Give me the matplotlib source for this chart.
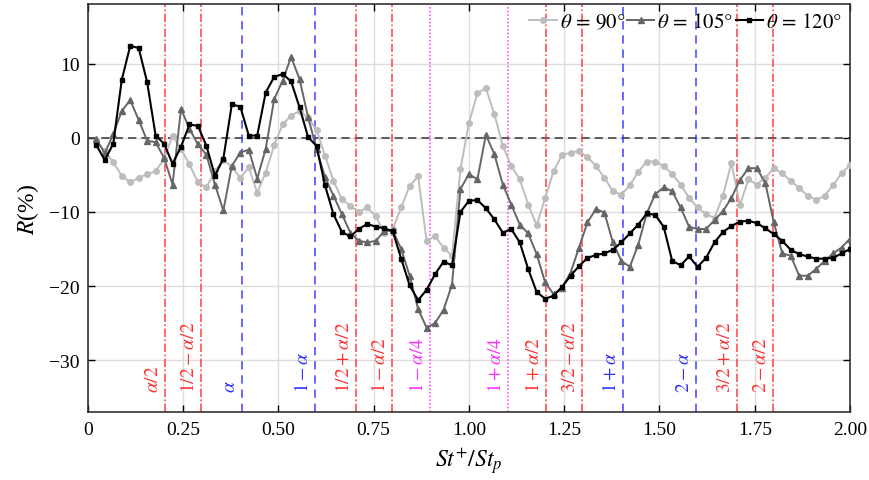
import matplotlib
matplotlib.use('Agg')
import matplotlib.pyplot as plt
import numpy as np

plt.rcParams['font.family'] = ['Liberation Serif', 'DejaVu Serif']
plt.rcParams['mathtext.fontset'] = 'stix'

# frequency bins St+/St_p (uniform resolution 1/45)
st_ratio = np.arange(1, 91) / 45

r_90 = [-0.4, -1.8, -3.3, -5.1, -6.0, -5.4, -4.9, -4.5, -2.9, 0.3, -1.5, -3.6, -6.0, -6.7, -4.5,
        -3.0, -3.9, -5.4, -4.0, -7.4, -4.7, -1.0,
        1.8, 3.0, 3.6, 2.7, 1.1, -2.4, -5.8, -8.3, -9.2, -10.0, -9.4, -10.6, -12.8, -12.3, -9.4,
        -6.5, -5.2, -13.9, -13.3, -14.8, -15.9, -4.2, 2.0,
        6.0, 6.7, 3.2, -1.1, -3.8, -5.6, -9.0, -11.8, -8.1, -4.5, -2.3, -2.0, -1.8, -2.6, -3.8,
        -5.4, -7.2, -7.7, -6.4, -4.6, -3.2, -3.2,
        -3.8, -4.9, -6.3, -8.1, -9.4, -10.3, -10.8, -7.8, -3.4, -9.1, -5.6, -6.3, -5.4, -4.1,
        -4.8, -5.8, -6.8, -7.8, -8.4, -7.8, -6.4, -4.8, -3.7]

r_105 = [-0.2, -2.1, 0.5, 3.6, 5.1, 2.4, -0.4, -0.6, -2.7, -6.3, 3.9, 1.2, -0.9, -2.3, -6.3,
         -9.8, -3.8, -2.0, -1.6, -5.5, -1.5, 5.2,
         7.7, 10.9, 7.9, 2.8, -1.5, -5.3, -7.8, -10.3, -12.8, -13.9, -14.1, -13.9, -12.6, -12.5,
         -15.0, -18.6, -23.1, -25.6, -25.0, -23.2, -19.8, -6.9, -4.9,
         -5.6, 0.4, -2.2, -6.3, -9.0, -11.7, -12.9, -15.7, -19.5, -21.1, -20.2, -18.2, -14.8,
         -11.4, -9.6, -10.1, -14.1, -16.6, -17.4, -14.4, -10.2, -7.6,
         -6.7, -7.2, -9.4, -12.0, -12.3, -12.3, -11.1, -9.9, -8.1, -5.7, -4.1, -4.1, -6.1, -11.4,
         -15.6, -15.9, -18.6, -18.6, -17.7, -16.6, -15.6, -14.8, -13.6]

r_120 = [-1.0, -3.0, -0.8, 7.8, 12.4, 12.1, 7.5, 0.3, -0.8, -3.5, -1.2, 1.8, 1.6, -1.1, -5.1,
         -2.8, 4.5, 4.2, 0.3, 0.3, 6.1, 8.2,
         8.6, 7.6, 4.1, 0.1, -1.1, -6.4, -10.3, -12.7, -13.3, -12.3, -11.6, -12.0, -12.2, -12.6,
         -16.3, -19.9, -21.9, -20.5, -18.4, -16.7, -17.2, -10.0, -8.5,
         -8.4, -9.5, -11.0, -12.8, -12.3, -14.1, -17.7, -20.8, -21.7, -21.3, -20.1, -18.6, -17.3,
         -16.2, -15.8, -15.6, -15.1, -14.1, -12.9, -11.7, -10.2, -10.4,
         -12.0, -16.6, -17.2, -16.0, -17.4, -16.2, -14.1, -12.7, -11.9, -11.3, -11.2, -11.5,
         -12.2, -13.0, -13.9, -15.1, -15.7, -16.0, -16.3, -16.3, -16.2, -15.6, -15.0]

alpha = 0.405
red, blue, magenta = '#ff3030', '#3030ff', '#ff30ff'
ref_lines = [
    (alpha / 2, r'$\alpha/2$', red),
    (0.5 - alpha / 2, r'$1/2-\alpha/2$', red),
    (alpha, r'$\alpha$', blue),
    (1 - alpha, r'$1-\alpha$', blue),
    (0.5 + alpha / 2, r'$1/2+\alpha/2$', red),
    (1 - alpha / 2, r'$1-\alpha/2$', red),
    (1 - alpha / 4, r'$1-\alpha/4$', magenta),
    (1 + alpha / 4, r'$1+\alpha/4$', magenta),
    (1 + alpha / 2, r'$1+\alpha/2$', red),
    (1.5 - alpha / 2, r'$3/2-\alpha/2$', red),
    (1 + alpha, r'$1+\alpha$', blue),
    (2 - alpha, r'$2-\alpha$', blue),
    (1.5 + alpha / 2, r'$3/2+\alpha/2$', red),
    (2 - alpha / 2, r'$2-\alpha/2$', red),
]
line_styles = {red: (0, (5, 1.5, 1, 1.5)), blue: (0, (5, 3.5)), magenta: (0, (1, 1.2))}

fig = plt.figure(figsize=(8.7, 4.81), dpi=100)
ax = fig.add_axes([0.101, 0.141, 0.876, 0.848])

ax.grid(True, color='#dddddd', linewidth=1.0)
ax.set_axisbelow(True)
ax.axhline(0, color='#444444', linestyle=(0, (5, 3)), linewidth=1.2, zorder=1)

for xv, label, col in ref_lines:
    ax.axvline(xv, color=col, linestyle=line_styles[col], linewidth=1.2, alpha=0.85, zorder=1)
    ax.text(xv - 0.008, -34.3, label, color=col, rotation=90, fontsize=14,
            ha='right', va='bottom')

ax.plot(st_ratio, r_90, color='#bdbdbd', marker='o', markersize=4, linewidth=1.4,
        label=r'$\theta\,=\,90°$', zorder=3)
ax.plot(st_ratio, r_105, color='#666666', marker='^', markersize=5, linewidth=1.4,
        label=r'$\theta\,=\,105°$', zorder=4)
ax.plot(st_ratio, r_120, color='black', marker='s', markersize=3.5, linewidth=1.5,
        label=r'$\theta\,=\,120°$', zorder=5)

ax.set_xlim(0, 2)
ax.set_ylim(-37, 18)
ax.set_xticks([0, 0.25, 0.5, 0.75, 1.0, 1.25, 1.5, 1.75, 2.0])
ax.set_xticklabels(['0', '0.25', '0.50', '0.75', '1.00', '1.25', '1.50', '1.75', '2.00'])
ax.set_yticks([-30, -20, -10, 0, 10])
ax.tick_params(direction='in', top=True, right=True, labelsize=14, length=5, width=1.0,
               pad=6)
for sp in ax.spines.values():
    sp.set_color('#333333')
    sp.set_linewidth(1.2)

ax.set_xlabel(r'$St^{+}/St_p$', fontsize=17, labelpad=6)
ax.set_ylabel(r'$R$(%)', fontsize=17, labelpad=6)

ax.legend(loc='upper right', ncol=3, frameon=False, fontsize=15, handlelength=1.3,
          handletextpad=0.15, columnspacing=0.1, borderaxespad=0.0,
          bbox_to_anchor=(1.0, 1.0))

fig.savefig('out.png', dpi=100)
